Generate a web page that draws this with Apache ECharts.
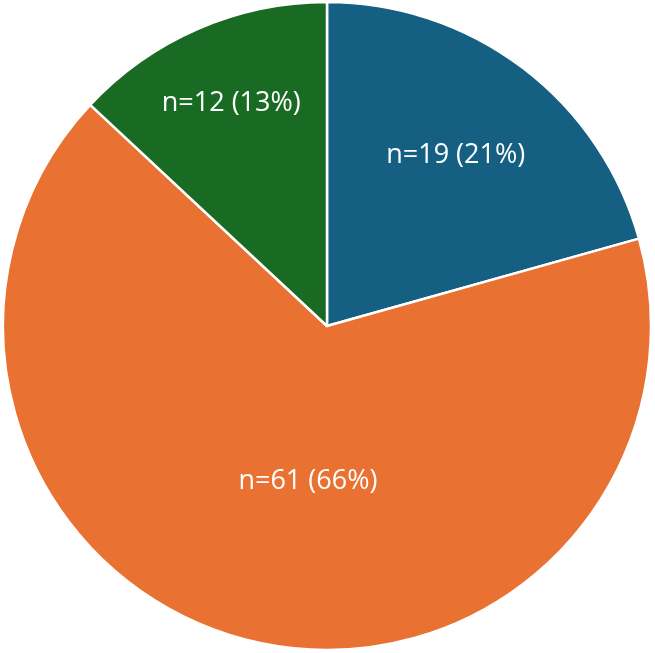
<!DOCTYPE html>
<html><head><meta charset="utf-8">
<script src="https://cdn.jsdelivr.net/npm/echarts@6/dist/echarts.min.js"></script>
<style>html,body{margin:0;padding:0;background:#fff}#c{width:655px;height:653px}</style>
</head><body><div id="c"></div>
<script>
const categories = ['A', 'B', 'C'];
const values = [19, 61, 12];
const colors = ['#156082', '#E97132', '#196B24'];
const labelOffsets = [[29, -39], [20, -5], [-30, -71]];
const total = values.reduce((a, b) => a + b, 0);
const chart = echarts.init(document.getElementById('c'), null, {renderer: 'canvas'});
chart.setOption({
  animation: false,
  series: [{
    type: 'pie',
    center: [327, 326],
    radius: [0, 324],
    startAngle: 90,
    clockwise: true,
    avoidLabelOverlap: false,
    itemStyle: {borderColor: '#fff', borderWidth: 2.5},
    label: {
      show: true, position: 'inside', color: '#fff',
      fontFamily: 'Open Sans', fontSize: 27,
      formatter: p => 'n=' + p.value + ' (' + Math.round(p.value / total * 100) + '%)'
    },
    labelLine: {show: false},
    data: categories.map((c, i) => ({
      name: c, value: values[i],
      itemStyle: {color: colors[i]},
      label: {offset: labelOffsets[i]}
    }))
  }]
});
</script></body></html>
